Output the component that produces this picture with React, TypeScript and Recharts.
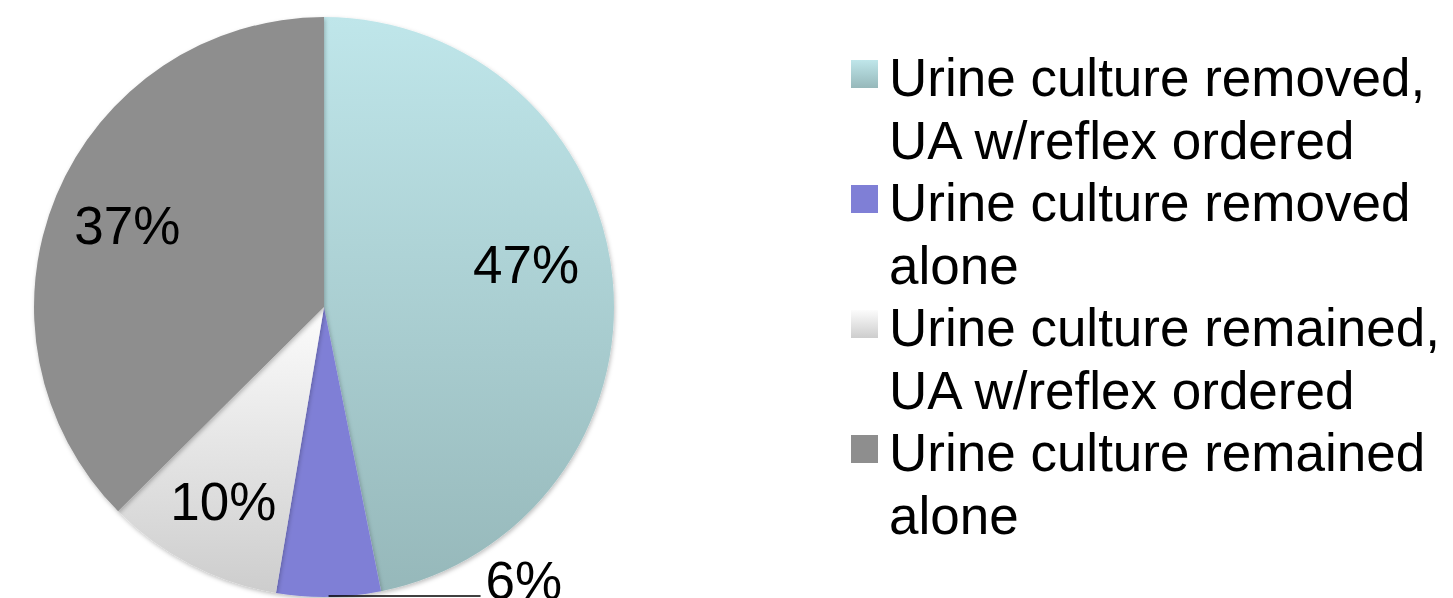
import React from "react";
import { PieChart, Pie, Cell } from "recharts";

const categories = [
  "Urine culture removed, UA w/reflex ordered",
  "Urine culture removed alone",
  "Urine culture remained, UA w/reflex ordered",
  "Urine culture remained alone",
];
const legendLines = [
  ["Urine culture removed,", "UA w/reflex ordered"],
  ["Urine culture removed", "alone"],
  ["Urine culture remained,", "UA w/reflex ordered"],
  ["Urine culture remained", "alone"],
];
const values = [46.8, 5.8, 9.9, 37.4];
const colorTop = ["#BFE6EA", "#7F7FD6", "#FCFCFC", "#8E8E8E"];
const colorBottom = ["#96B8BA", "#7F7FD6", "#CDCDCD", "#8E8E8E"];

const data = categories.map((name, i) => ({ name, value: values[i] }));

const FONT = "'Liberation Sans', Arial, sans-serif";
const FS = 53;
const RAD = Math.PI / 180;

const renderLabel = (props: any) => {
  const { cx, cy, midAngle, outerRadius, percent, index } = props;
  const text = `${Math.round(percent * 100)}%`;
  const cos = Math.cos(-midAngle * RAD);
  const sin = Math.sin(-midAngle * RAD);
  if (index === 1) {
    const sx = cx + outerRadius * cos;
    const sy = cy + outerRadius * sin;
    const ex = sx + 152;
    return (
      <g>
        <line x1={sx} y1={sy - 1} x2={ex} y2={sy - 1} stroke="#000" strokeWidth={1.5} />
        <text x={ex + 5} y={sy + 2} fontSize={FS} fontFamily={FONT} fill="#000" textAnchor="start">
          {text}
        </text>
      </g>
    );
  }
  const rf = index === 0 ? 0.7 : index === 2 ? 0.755 : 0.735;
  const lift = index === 0 ? -22 : 0;
  const x = cx + outerRadius * rf * cos;
  const y = cy + outerRadius * rf * sin + lift;
  return (
    <text x={x} y={y} fontSize={FS} fontFamily={FONT} fill="#000" textAnchor="middle" dominantBaseline="central">
      {text}
    </text>
  );
};

const LINE_H = 62.57;

const LegendBox = () => (
  <div
    style={{
      position: "absolute",
      left: 851,
      top: 47,
      fontFamily: FONT,
      fontSize: FS,
      lineHeight: `${LINE_H}px`,
      color: "#000",
      whiteSpace: "nowrap",
    }}
  >
    {legendLines.map((lines, i) => (
      <div key={i} style={{ position: "relative", paddingLeft: 38 }}>
        <div
          style={{
            position: "absolute",
            left: 0,
            top: 13,
            width: 27,
            height: 28,
            background: `linear-gradient(${colorTop[i]}, ${colorBottom[i]})`,
          }}
        />
        {lines.map((l, j) => (
          <div key={j}>{l}</div>
        ))}
      </div>
    ))}
  </div>
);

export default function App() {
  return (
    <div style={{ position: "absolute", left: 0, top: 0, width: 1453, height: 598, background: "#fff", overflow: "hidden" }}>
      <PieChart width={1453} height={598} margin={{ top: 0, right: 0, bottom: 0, left: 0 }}>
        <defs>
          {colorTop.map((c, i) => (
            <linearGradient key={i} id={`grad${i}`} x1="0" y1="0" x2="0" y2="1">
              <stop offset="0%" stopColor={c} />
              <stop offset="100%" stopColor={colorBottom[i]} />
            </linearGradient>
          ))}
          <filter id="shadow" x="-10%" y="-10%" width="120%" height="120%">
            <feDropShadow dx="1" dy="2" stdDeviation="2" floodColor="#000" floodOpacity="0.25" />
          </filter>
        </defs>
        <Pie
          data={data}
          dataKey="value"
          nameKey="name"
          cx={324}
          cy={307}
          outerRadius={290}
          startAngle={90}
          endAngle={-270}
          stroke="none"
          label={renderLabel}
          labelLine={false}
          isAnimationActive={false}
          style={{ filter: "url(#shadow)" }}
        >
          {data.map((_, i) => (
            <Cell key={i} fill={`url(#grad${i})`} stroke="none" />
          ))}
        </Pie>
      </PieChart>
      <LegendBox />
    </div>
  );
}
